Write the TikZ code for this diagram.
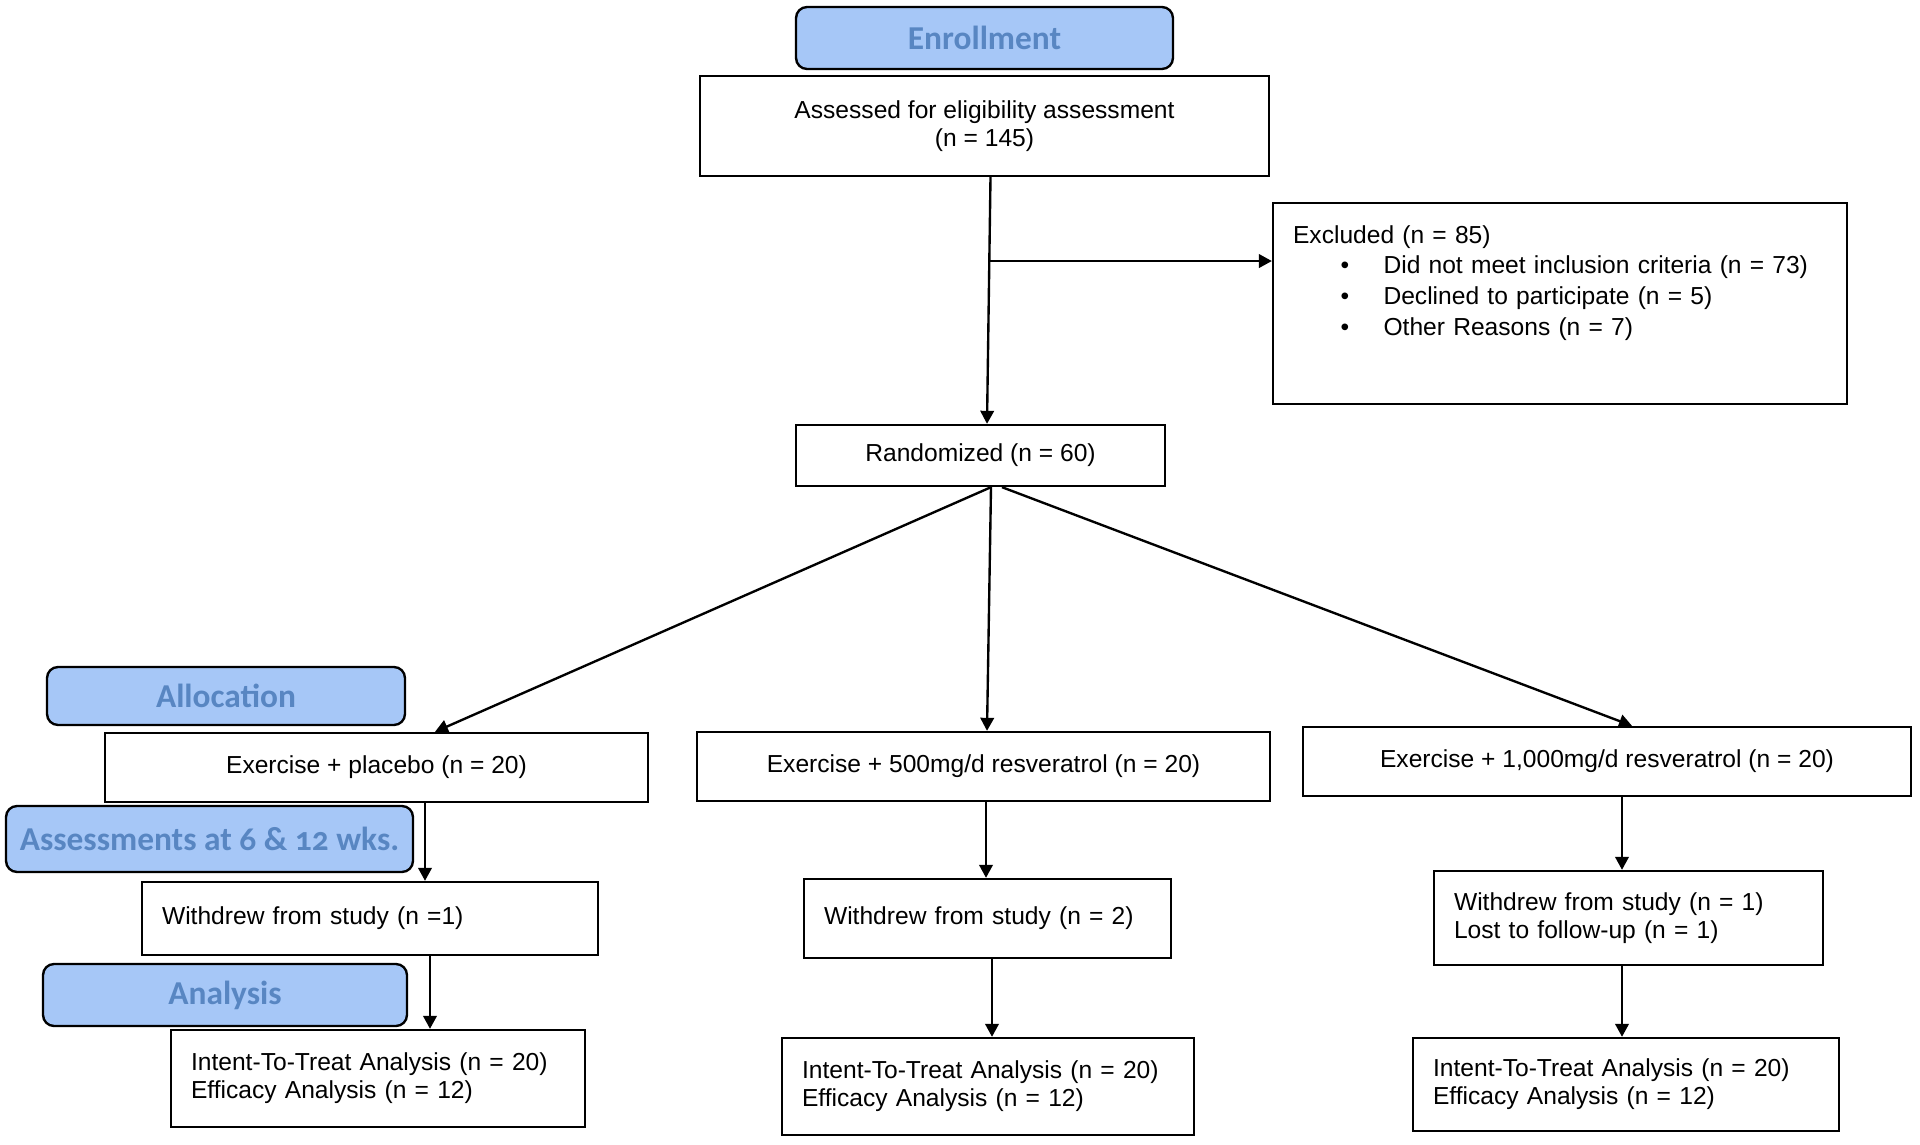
\documentclass[tikz,border=0pt]{standalone}
\usepackage{fontspec}
\setmainfont{Liberation Sans}
\newfontfamily\stagefont[Numbers=OldStyle]{Carlito}
\usetikzlibrary{arrows.meta,calc}
\definecolor{stagefill}{RGB}{166,199,247}
\definecolor{stagetext}{RGB}{88,134,194}
\tikzset{
    box/.style={
        draw,
        line width=1.35pt,
        align=center,
        inner sep=0pt,
        font=\fontsize{14}{16}\selectfont
    },
    leftbox/.style={
        box,
        align=left,
        inner xsep=0.4cm
    },
    stage/.style={
        draw,
        line width=1.35pt,
        rounded corners=0.22cm,
        fill=stagefill,
        text=stagetext,
        inner sep=0pt,
        font=\stagefont\bfseries\fontsize{19}{22}\selectfont
    },
    flow/.style={-{Triangle[length=2.6mm,width=2.7mm]}, line width=1.35pt}
}
\newcommand{\exitem}[1]{\\\hspace*{0.95cm}\makebox[0.86cm][l]{\textbullet}#1}

\begin{document}
\begin{tikzpicture}[x=0.02cm, y=-0.02cm]
        \useasboundingbox (0,0) rectangle (1920,1145);

        % stage labels
        \node[stage, minimum width=7.54cm, minimum height=1.24cm] (enroll) at (984.5,38) {Enrollment};
        \node[stage, minimum width=7.16cm, minimum height=1.16cm] (alloc) at (226,696) {Allocation};
        \node[stage, minimum width=8.14cm, minimum height=1.32cm] (assessst) at (209.5,839) {Assessments at 6 \& 12 wks.};
        \node[stage, minimum width=7.28cm, minimum height=1.24cm] (analysis) at (225,995) {Analysis};

        % enrollment
        \node[box, minimum width=11.38cm, minimum height=2cm] (assess) at (984.5,126) {Assessed for eligibility assessment\\(n = 145)};
        \node[leftbox, inner ysep=0.45cm, text width=10.68cm] (excl) at (1560,303.5) {%
            \begin{minipage}[t][3.12cm][t]{10.68cm}
            \fontsize{14}{17.4}\selectfont
            Excluded (n = 85)
            \exitem{Did not meet inclusion criteria (n = 73)}
            \exitem{Declined to participate (n = 5)}
            \exitem{Other Reasons (n = 7)}
            \end{minipage}};
        \node[box, minimum width=7.38cm, minimum height=1.22cm] (rand) at (980.5,455.5) {Randomized (n = 60)};

        % allocation
        \node[box, minimum width=10.86cm, minimum height=1.38cm] (plac) at (376.5,767.5) {Exercise + placebo (n = 20)};
        \node[box, minimum width=11.46cm, minimum height=1.38cm] (mid) at (983.5,766.5) {Exercise + 500mg/d resveratrol (n = 20)};
        \node[box, minimum width=12.16cm, minimum height=1.38cm] (high) at (1607,761.5) {Exercise + 1,000mg/d resveratrol (n = 20)};

        % follow-up
        \node[leftbox, text width=8.32cm, minimum height=1.46cm] (wdplac) at (370,918.5) {Withdrew from study (n =1)};
        \node[leftbox, text width=6.54cm, minimum height=1.58cm] (wdmid) at (987.5,918.5) {Withdrew from study (n = 2)};
        \node[leftbox, text width=6.98cm, minimum height=1.88cm] (wdhigh) at (1628.5,918) {Withdrew from study (n = 1)\\Lost to follow-up (n = 1)};

        % analysis
        \node[leftbox, text width=7.48cm, minimum height=1.94cm] (ittplac) at (378,1078.5) {Intent-To-Treat Analysis (n = 20)\\Efficacy Analysis (n = 12)};
        \node[leftbox, text width=7.44cm, minimum height=1.94cm] (ittmid) at (988,1086.5) {Intent-To-Treat Analysis (n = 20)\\Efficacy Analysis (n = 12)};
        \node[leftbox, text width=7.72cm, minimum height=1.86cm] (itthigh) at (1626,1084.5) {Intent-To-Treat Analysis (n = 20)\\Efficacy Analysis (n = 12)};

        % connectors
        \coordinate (aOut) at ([xshift=0.12cm]assess.south);
        \coordinate (rIn) at ([xshift=0.13cm]rand.north);
        \coordinate (split) at ($(aOut)!0.34!(rIn)$);
        \draw[flow] (aOut) -- (rIn);
        \draw[flow] (split) -- (split -| excl.west);

        \draw[flow] ([xshift=0.21cm]rand.south) -- ([xshift=1.17cm]plac.north);
        \draw[flow] ([xshift=0.21cm]rand.south) -- ([xshift=0.07cm]mid.north);
        \draw[flow] ([xshift=0.43cm]rand.south) -- ([xshift=0.5cm]high.north);

        \draw[flow] ([xshift=0.97cm]plac.south) -- ([xshift=0.97cm]plac.south |- wdplac.north);
        \draw[flow] ([xshift=1.2cm]wdplac.south) -- ([xshift=1.2cm]wdplac.south |- ittplac.north);
        \draw[flow] ([xshift=0.05cm]mid.south) -- ([xshift=0.05cm]mid.south |- wdmid.north);
        \draw[flow] ([xshift=0.09cm]wdmid.south) -- ([xshift=0.09cm]wdmid.south |- ittmid.north);
        \draw[flow] ([xshift=0.3cm]high.south) -- ([xshift=0.3cm]high.south |- wdhigh.north);
        \draw[flow] ([xshift=-0.13cm]wdhigh.south) -- ([xshift=-0.13cm]wdhigh.south |- itthigh.north);
    \end{tikzpicture}
\end{document}
